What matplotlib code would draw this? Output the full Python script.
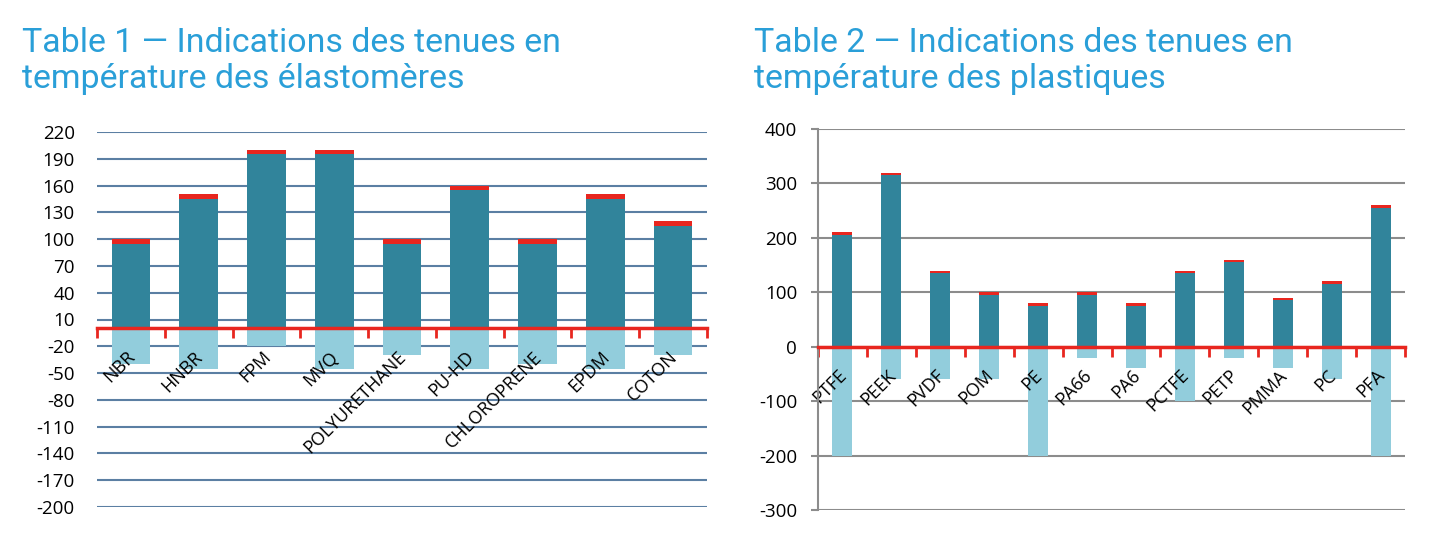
import matplotlib.pyplot as plt
import matplotlib.transforms as mtransforms
import numpy as np

# Table 1 - elastomeres
cat1 = ["NBR", "HNBR", "FPM", "MVQ", "POLYURETHANE", "PU-HD", "CHLOROPRENE", "EPDM", "COTON"]
max1 = [100, 150, 200, 200, 100, 160, 100, 150, 120]
min1 = [-40, -45, -20, -45, -30, -45, -40, -45, -30]

# Table 2 - plastiques
cat2 = ["PTFE", "PEEK", "PVDF", "POM", "PE", "PA66", "PA6", "PCTFE", "PETP", "PMMA", "PC", "PFA"]
max2 = [210, 320, 140, 100, 80, 100, 80, 140, 160, 90, 120, 260]
min2 = [-200, -60, -60, -60, -200, -20, -40, -100, -20, -40, -60, -200]

cap = 5  # red cap on top of each bar

teal = "#31849b"
light = "#92cddc"
red = "#e8261f"
title_col = "#2a9fd8"

plt.rcParams["font.family"] = ["Open Sans", "DejaVu Sans"]

fig = plt.figure(figsize=(14.48, 5.55), dpi=100)


def draw(ax, cats, vmax, vmin, width, yticks, gridcol, show_left, ypad):
    x = np.arange(len(cats))
    vmax = np.array(vmax)
    ax.bar(x, vmax - cap, width, color=teal, zorder=1)
    ax.bar(x, cap, width, bottom=vmax - cap, color=red, zorder=1)
    ax.bar(x, vmin, width, color=light, zorder=1)
    for t in yticks:
        ax.axhline(t, color=gridcol, lw=1.5, zorder=0)
    ax.set_xlim(-0.5, len(cats) - 0.5)
    ax.set_ylim(min(yticks), max(yticks))
    ax.set_yticks(yticks)
    ax.set_yticklabels([str(t) for t in yticks])
    ax.tick_params(axis="y", labelsize=13.5, pad=ypad, color="#8c8c8c", width=1.5,
                   length=5 if show_left else 0)
    for s in ["top", "right"]:
        ax.spines[s].set_visible(False)
    ax.spines["left"].set_visible(show_left)
    ax.spines["left"].set_color("#8c8c8c")
    ax.spines["left"].set_linewidth(1.5)
    ax.spines["bottom"].set_position(("data", 0))
    ax.spines["bottom"].set_color(red)
    ax.spines["bottom"].set_linewidth(2.5)
    ax.spines["bottom"].set_zorder(3)
    ax.set_xticks(x)
    ax.set_xticklabels(cats, rotation=45, ha="right", rotation_mode="anchor", fontsize=13)
    ax.tick_params(axis="x", which="major", length=0, pad=14)
    off = mtransforms.ScaledTranslation(-5 / 100, 0, fig.dpi_scale_trans)
    for lbl in ax.get_xticklabels():
        lbl.set_transform(lbl.get_transform() + off)
    ax.set_xticks(np.arange(len(cats) + 1) - 0.5, minor=True)
    ax.tick_params(axis="x", which="minor", length=7, width=2, color=red, direction="out")


ax1 = fig.add_axes([97 / 1448, 1 - 507 / 555, 610 / 1448, 375 / 555])
draw(ax1, cat1, max1, min1, 0.57, list(range(-200, 221, 30)), "#5b7fa3", False, 16)

ax2 = fig.add_axes([818 / 1448, 1 - 510 / 555, 587 / 1448, 381 / 555])
draw(ax2, cat2, max2, min2, 0.41, list(range(-300, 401, 100)), "#8c8c8c", True, 10)

tfont = ["Roboto", "DejaVu Sans"]
fig.text(22 / 1448, 1 - 52 / 555, "Table 1 \u2014 Indications des tenues en",
         color=title_col, fontsize=24.4, family=tfont, va="baseline")
fig.text(22 / 1448, 1 - 88 / 555, "température des élastomères",
         color=title_col, fontsize=24.4, family=tfont, va="baseline")
fig.text(754 / 1448, 1 - 52 / 555, "Table 2 \u2014 Indications des tenues en",
         color=title_col, fontsize=24.4, family=tfont, va="baseline")
fig.text(754 / 1448, 1 - 88 / 555, "température des plastiques",
         color=title_col, fontsize=24.4, family=tfont, va="baseline")

plt.savefig("out.png", dpi=100)
